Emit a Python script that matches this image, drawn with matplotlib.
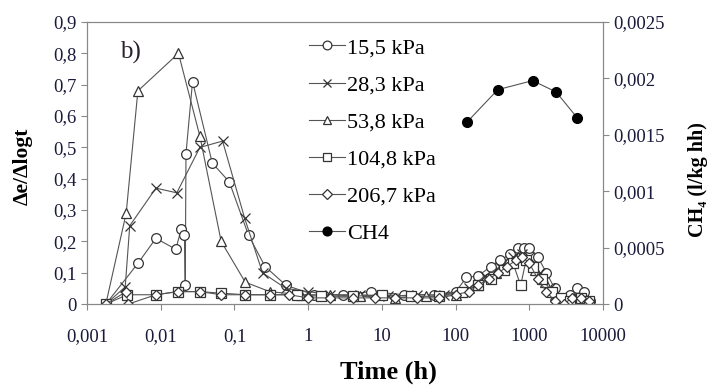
import matplotlib
matplotlib.use("Agg")
import matplotlib.pyplot as plt
from matplotlib.ticker import FixedLocator, NullLocator

plt.rcParams['font.family'] = ['Liberation Serif', 'DejaVu Serif']

# Δe/Δlogt series (time in h)
t_155 = [0.0018, 0.0049, 0.0086, 0.016, 0.019, 0.021, 0.0215, 0.022, 0.027, 0.05, 0.085, 0.155, 0.26,
         0.5, 1.2, 3, 7, 20, 50, 100, 140, 200, 300, 400, 550, 700, 850, 1000, 1300, 1700, 2200,
         2800, 3500, 4400, 5500, 6700]
y_155 = [0, 0.13, 0.21, 0.175, 0.24, 0.22, 0.06, 0.48, 0.71, 0.45, 0.39, 0.22, 0.12,
         0.06, 0.03, 0.03, 0.04, 0.03, 0.03, 0.04, 0.085, 0.09, 0.12, 0.14, 0.16, 0.18, 0.18,
         0.18, 0.15, 0.10, 0.05, 0.02, 0.03, 0.05, 0.04, 0.01]

t_283 = [0.0018, 0.0033, 0.0038, 0.0086, 0.0165, 0.034, 0.069, 0.137, 0.24, 0.5, 1.0, 2, 5, 12, 30,
         70, 150, 250, 400, 600, 800, 1000, 1400, 1900, 2500, 3300, 4500, 6000]
y_283 = [0, 0.055, 0.25, 0.37, 0.355, 0.50, 0.52, 0.275, 0.10, 0.05, 0.04, 0.03, 0.03, 0.025, 0.03,
         0.03, 0.05, 0.09, 0.12, 0.15, 0.16, 0.15, 0.10, 0.05, 0.02, 0.01, 0.02, 0.01]

t_538 = [0.0018, 0.0034, 0.0049, 0.0174, 0.034, 0.066, 0.14, 0.3, 0.8, 2, 5, 15, 40, 100, 200,
         350, 500, 700, 900, 1200, 1600, 2200, 3000, 4200, 6000]
y_538 = [0, 0.29, 0.68, 0.80, 0.535, 0.20, 0.07, 0.04, 0.03, 0.03, 0.025, 0.02, 0.025, 0.03, 0.06,
         0.10, 0.13, 0.15, 0.14, 0.11, 0.07, 0.03, 0.01, 0.01, 0.005]

t_1048 = [0.0018, 0.0035, 0.0086, 0.017, 0.034, 0.066, 0.14, 0.3, 0.7, 1.5, 4, 10, 25, 60, 120,
          200, 300, 450, 600, 760, 900, 1100, 1500, 2000, 2700, 3600, 5000, 6500]
y_1048 = [0, 0.03, 0.03, 0.04, 0.04, 0.035, 0.03, 0.03, 0.03, 0.025, 0.025, 0.03, 0.025, 0.025, 0.04,
          0.06, 0.08, 0.11, 0.13, 0.06, 0.14, 0.12, 0.08, 0.04, 0.02, 0.01, 0.02, 0.01]

t_2067 = [0.0018, 0.0034, 0.0036, 0.0086, 0.017, 0.034, 0.066, 0.14, 0.3, 0.55, 1, 2, 4, 8, 15, 30,
          60, 100, 150, 200, 280, 380, 500, 650, 800, 1000, 1300, 1700, 2200, 2900, 3800, 5000, 6500]
y_2067 = [0, 0.04, 0.0, 0.03, 0.04, 0.04, 0.03, 0.03, 0.03, 0.03, 0.02, 0.02, 0.02, 0.02, 0.02, 0.02,
          0.02, 0.03, 0.04, 0.06, 0.08, 0.10, 0.12, 0.14, 0.15, 0.13, 0.08, 0.04, 0.01, 0.0, 0.02, 0.02, 0.01]

# CH4 (right axis)
t_ch4 = [141, 372, 1100, 2300, 4450]
y_ch4 = [0.00161, 0.00190, 0.00198, 0.00188, 0.00165]

x_ticks = [0.001, 0.01, 0.1, 1, 10, 100, 1000, 10000]
x_labels = ["0,001", "0,01", "0,1", "1", "10", "100", "1000", "10000"]
yl_ticks = [0, 0.1, 0.2, 0.3, 0.4, 0.5, 0.6, 0.7, 0.8, 0.9]
yl_labels = ["0", "0,1", "0,2", "0,3", "0,4", "0,5", "0,6", "0,7", "0,8", "0,9"]
yr_ticks = [0, 0.0005, 0.001, 0.0015, 0.002, 0.0025]
yr_labels = ["0", "0,0005", "0,001", "0,0015", "0,002", "0,0025"]

fig = plt.figure(figsize=(7.13, 3.85), dpi=100)
ax = fig.add_axes([0.122, 0.21, 0.724, 0.733])
ax2 = ax.twinx()

lc = "#555555"
kw = dict(color=lc, lw=0.8, mec="#333333", mfc="white", mew=0.9)
series = [
    (t_155, y_155, "o", "15,5 kPa"),
    (t_283, y_283, "x", "28,3 kPa"),
    (t_538, y_538, "^", "53,8 kPa"),
    (t_1048, y_1048, "s", "104,8 kPa"),
    (t_2067, y_2067, "D", "206,7 kPa"),
]
handles = []
for t, y, m, lab in series:
    ms = 5.5 if m == "D" else 7
    h, = ax.plot(t, y, marker=m, label=lab, ms=ms, **kw)
    handles.append(h)

h, = ax2.plot(t_ch4, y_ch4, marker="o", color=lc, lw=0.8, mfc="black", mec="black", ms=7, label="CH4")
handles.append(h)

ax.set_xscale("log")
ax.set_xlim(0.001, 10000)
ax.set_ylim(0, 0.9)
ax2.set_ylim(0, 0.0025)

ax.xaxis.set_major_locator(FixedLocator(x_ticks))
ax.xaxis.set_minor_locator(NullLocator())
ax.set_xticklabels(x_labels)
ax.set_yticks(yl_ticks)
ax.set_yticklabels(yl_labels)
ax2.set_yticks(yr_ticks)
ax2.set_yticklabels(yr_labels)

for a in (ax, ax2):
    for s in a.spines.values():
        s.set_color("#888888")
    a.tick_params(axis="both", labelsize=13.5, color="#888888", length=4, labelcolor="#1a1a3a")
ax.tick_params(axis="x", pad=13)

ax.set_xlabel("Time (h)", fontsize=19, fontweight="bold")
ax.xaxis.set_label_coords(0.583, -0.2)
ax.set_ylabel("Δe/Δlogt", fontsize=15.5, fontweight="bold")
ax.yaxis.set_label_coords(-0.105, 0.49)
ax2.set_ylabel("CH₄ (l/kg hh)", fontsize=14.5, fontweight="bold")
ax2.yaxis.set_label_coords(1.165, 0.44)

ax.text(0.064, 0.87, "b)", transform=ax.transAxes, fontsize=18, color="#2a2030")

ax.legend(handles=handles, loc="upper left", bbox_to_anchor=(0.40, 1.0), frameon=False,
          fontsize=16, handlelength=1.6, handletextpad=0.1, labelspacing=0.75,
          borderpad=0.2, markerscale=0.9)

fig.savefig("out.png", dpi=100)
